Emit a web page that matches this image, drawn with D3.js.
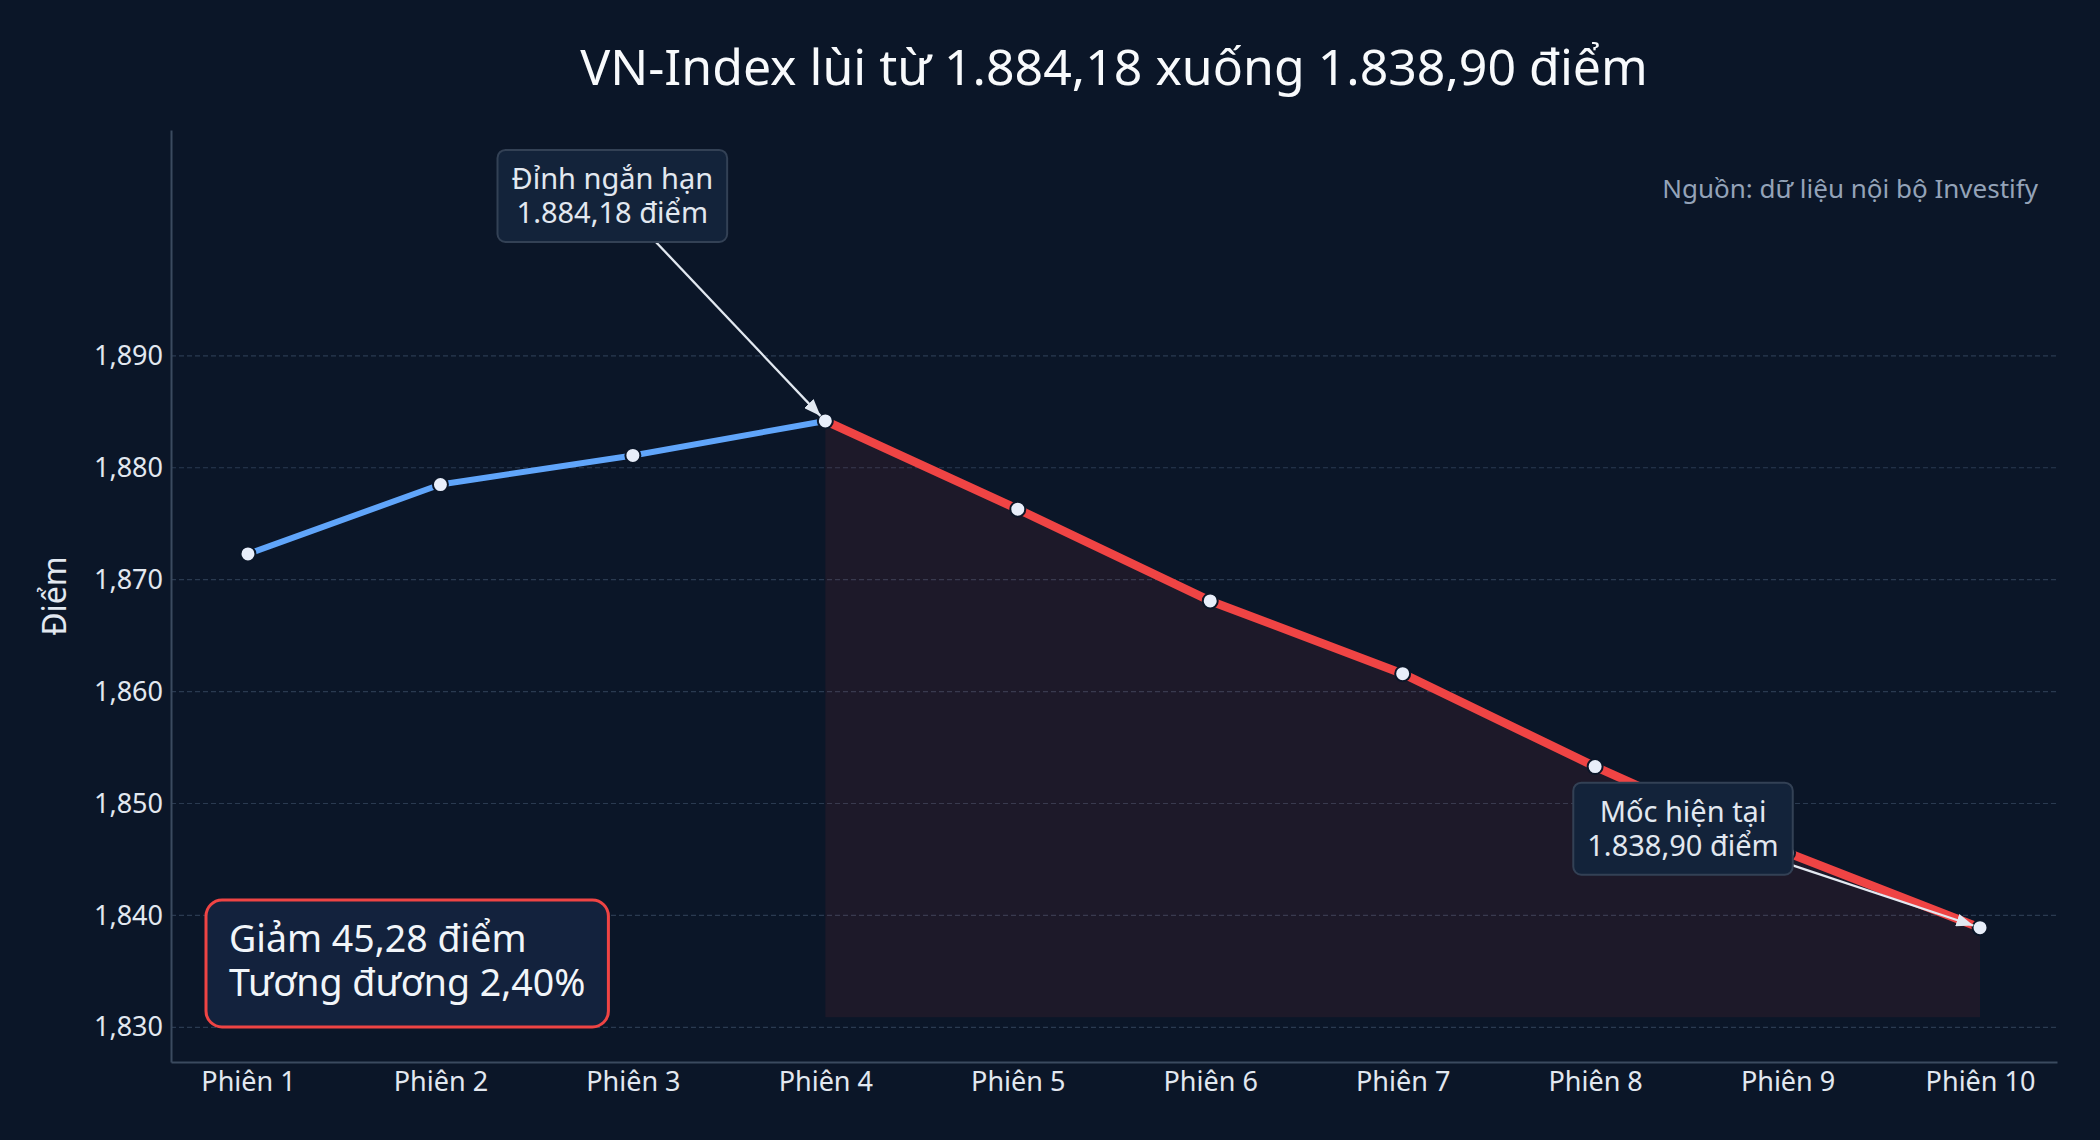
<!DOCTYPE html>
<html>
<head>
<meta charset="utf-8">
<title>VN-Index</title>
<script src="https://cdn.jsdelivr.net/npm/d3@7"></script>
<style>
  body { margin: 0; background: #0b1628; }
  svg text { font-family: "Noto Sans", sans-serif; }
  .grid line { stroke: #2a3a50; stroke-width: 1.2; stroke-dasharray: 5,3; }
  .axis path { stroke: #3b4a5f; stroke-width: 2; }
  .axis text { fill: #e2e8f0; font-size: 27px; font-family: "Noto Sans", sans-serif; }
</style>
</head>
<body>
<svg id="chart" width="2100" height="1140"></svg>
<script>

// ************** data *****************
var sessions = ["Phiên 1", "Phiên 2", "Phiên 3", "Phiên 4", "Phiên 5",
                "Phiên 6", "Phiên 7", "Phiên 8", "Phiên 9", "Phiên 10"];
var points = [1872.3, 1878.5, 1881.1, 1884.18, 1876.3, 1868.1, 1861.6, 1853.3, 1845.6, 1838.90];
var yTicks = [1830, 1840, 1850, 1860, 1870, 1880, 1890];
var peakIndex = 3;

var titleText = "VN-Index lùi từ 1.884,18 xuống 1.838,90 điểm";
var sourceText = "Nguồn: dữ liệu nội bộ Investify";
var yLabel = "Điểm";
var peakLabel = ["Đỉnh ngắn hạn", "1.884,18 điểm"];
var lastLabel = ["Mốc hiện tại", "1.838,90 điểm"];
var summaryLines = ["Giảm 45,28 điểm", "Tương đương 2,40%"];

// ************** layout *****************
var W = 2100, H = 1140;
var margin = {top: 130, right: 43, bottom: 78, left: 171},
    width = W - margin.left - margin.right,
    height = H - margin.top - margin.bottom;

var svg = d3.select("#chart");
svg.append("rect").attr("width", W).attr("height", H).attr("fill", "#0b1628");

var g = svg.append("g")
    .attr("transform", "translate(" + margin.left + "," + margin.top + ")");

var yMin = d3.min(points), yMax = d3.max(points);

var x = d3.scaleLinear().domain([-0.4, points.length - 0.6]).range([0, width]);
var y = d3.scaleLinear().domain([yMin - 12, yMax + 26]).range([height, 0]);

// grid
g.append("g").attr("class", "grid")
  .selectAll("line").data(yTicks).enter().append("line")
    .attr("x1", 0).attr("x2", width)
    .attr("y1", function(d) { return y(d); })
    .attr("y2", function(d) { return y(d); });

// axes
g.append("g").attr("class", "axis")
    .call(d3.axisLeft(y).tickValues(yTicks).tickSize(0).tickPadding(8)
      .tickFormat(d3.format(",")));
g.append("g").attr("class", "axis")
    .attr("transform", "translate(0," + height + ")")
    .call(d3.axisBottom(x).tickValues(d3.range(points.length)).tickSize(0).tickPadding(10)
      .tickFormat(function(i) { return sessions[i]; }));
g.selectAll(".axis text").attr("font-family", null);

// y label
svg.append("text")
    .attr("transform", "translate(55," + (margin.top + height / 2) + ") rotate(-90)")
    .attr("text-anchor", "middle").attr("dy", "0.35em")
    .attr("fill", "#e2e8f0").style("font-size", "32px")
    .text(yLabel);

// title + source
svg.append("text")
    .attr("x", margin.left + width / 2).attr("y", 67).attr("dy", "0.35em")
    .attr("text-anchor", "middle").attr("fill", "#f8fafc").style("font-size", "50px")
    .text(titleText);
svg.append("text")
    .attr("x", 2038).attr("y", 189).attr("dy", "0.35em")
    .attr("text-anchor", "end").attr("fill", "#94a3b8").style("font-size", "26px")
    .text(sourceText);

// ************** series *****************
var idx = d3.range(points.length);
var upIdx = idx.slice(0, peakIndex + 1),
    downIdx = idx.slice(peakIndex);

var area = d3.area()
    .x(function(i) { return x(i); })
    .y0(y(yMin - 8))
    .y1(function(i) { return y(points[i]); });
g.append("path").datum(downIdx)
    .attr("d", area).attr("fill", "#ef4444").attr("fill-opacity", 0.08);

var line = d3.line()
    .x(function(i) { return x(i); })
    .y(function(i) { return y(points[i]); });
g.append("path").datum(upIdx).attr("d", line)
    .attr("fill", "none").attr("stroke", "#60a5fa").attr("stroke-width", 6)
    .attr("stroke-linejoin", "round").attr("stroke-linecap", "round");
g.append("path").datum(downIdx).attr("d", line)
    .attr("fill", "none").attr("stroke", "#ef4444").attr("stroke-width", 8.5)
    .attr("stroke-linejoin", "round").attr("stroke-linecap", "round");

g.selectAll("circle.pt").data(idx).enter().append("circle")
    .attr("class", "pt")
    .attr("cx", function(i) { return x(i); })
    .attr("cy", function(i) { return y(points[i]); })
    .attr("r", 7.5)
    .attr("fill", "#e8eefa").attr("stroke", "#0b1628").attr("stroke-width", 2);

// ************** annotations *****************
svg.append("defs").append("marker")
    .attr("id", "head").attr("markerUnits", "userSpaceOnUse")
    .attr("markerWidth", 17).attr("markerHeight", 13)
    .attr("refX", 17).attr("refY", 6.5).attr("orient", "auto")
  .append("path").attr("d", "M0,0 L17,6.5 L0,13 z").attr("fill", "#e2e8f0");

var arrows = g.append("g"), boxes = g.append("g");

function annotate(lines, i, dx, dy) {
  var px = x(i), py = y(points[i]);
  var cx = px + dx, cy = py + dy;
  var box = boxes.append("g");
  var rect = box.append("rect");
  var txt = box.append("text")
      .attr("text-anchor", "middle").attr("fill", "#e2e8f0").style("font-size", "29px");
  lines.forEach(function(s, k) {
    txt.append("tspan").attr("x", cx)
      .attr("y", cy + (k - (lines.length - 1) / 2) * 34).attr("dy", "0.35em").text(s);
  });
  var bb = txt.node().getBBox();
  var hw = bb.width / 2 + 14, hh = 46;
  rect.attr("x", cx - hw).attr("y", cy - hh).attr("width", hw * 2).attr("height", hh * 2)
      .attr("rx", 8).attr("fill", "#13233a").attr("stroke", "#334155").attr("stroke-width", 2);

  // arrow from box edge to point
  var vx = px - cx, vy = py - cy, len = Math.sqrt(vx * vx + vy * vy);
  var t = Math.min(hw / Math.abs(vx), hh / Math.abs(vy));
  arrows.append("line")
      .attr("x1", cx + vx * t).attr("y1", cy + vy * t)
      .attr("x2", px - vx / len * 7).attr("y2", py - vy / len * 7)
      .attr("stroke", "#e2e8f0").attr("stroke-width", 2.3)
      .attr("marker-end", "url(#head)");
}

annotate(peakLabel, peakIndex, -213, -225);
annotate(lastLabel, points.length - 1, -297, -99);

// summary box
var sum = g.append("g");
var sumRect = sum.append("rect");
var sumText = sum.append("text").attr("fill", "#f1f5f9").style("font-size", "37.5px");
summaryLines.forEach(function(s, k) {
  sumText.append("tspan").attr("x", 58).attr("y", height - 123 + k * 44)
    .attr("dy", "0.35em").text(s);
});
var sb = sumText.node().getBBox();
sumRect.attr("x", 35).attr("y", height - 162)
    .attr("width", sb.width + 46).attr("height", 127)
    .attr("rx", 16).attr("fill", "#13223d").attr("stroke", "#ef4444").attr("stroke-width", 3);

</script>
</body>
</html>
